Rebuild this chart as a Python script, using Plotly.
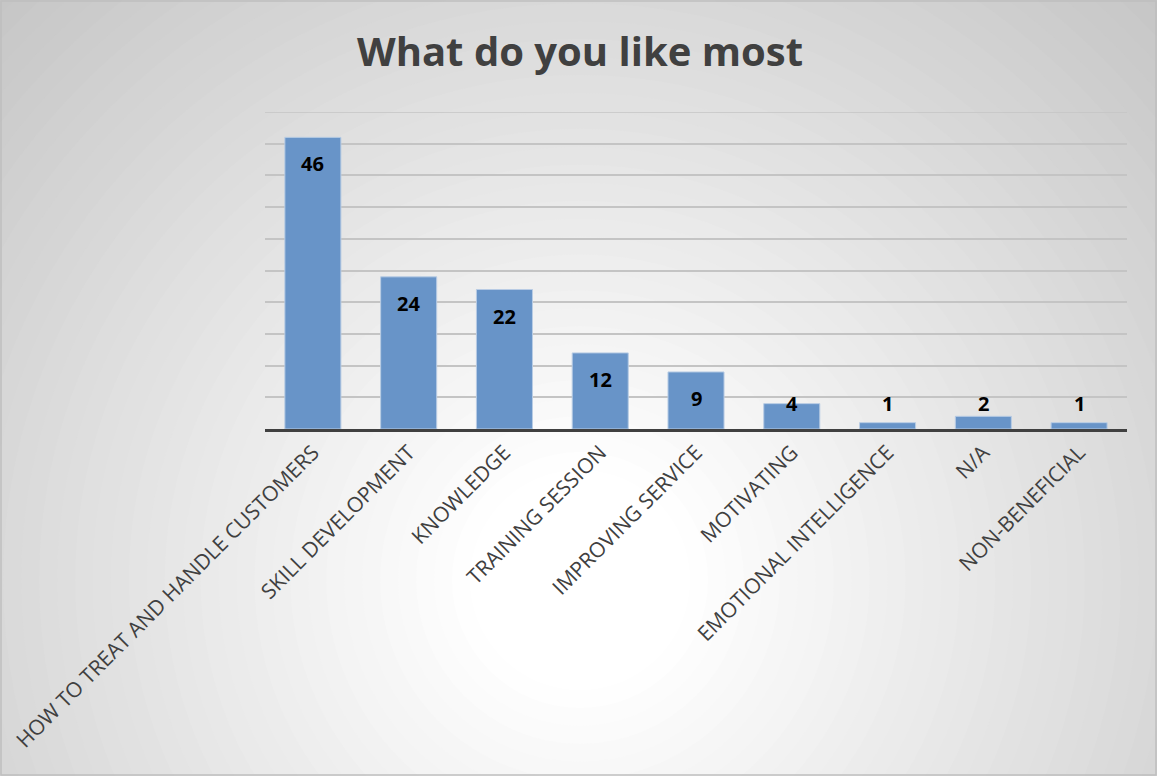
import plotly.graph_objects as go

categories = ["HOW TO TREAT AND HANDLE CUSTOMERS", "SKILL DEVELOPMENT", "KNOWLEDGE",
              "TRAINING SESSION", "IMPROVING SERVICE", "MOTIVATING",
              "EMOTIONAL INTELLIGENCE", "N/A", "NON-BENEFICIAL"]
values = [46, 24, 22, 12, 9, 4, 1, 2, 1]
title_text = "What do you like most"
y_max = 50

W, H = 1157, 776
L, R, T, B = 265, 30, 112, 347
pw, ph = W - L - R, H - T - B


def px2paper_x(px):
    return (px - L) / pw


def px2paper_y(py):
    return (H - B - py) / ph


fig = go.Figure()
fig.add_trace(go.Bar(
    x=categories, y=values,
    marker=dict(color="#6894c8", line=dict(color="#b8cce4", width=1)),
    hoverinfo="x+y",
))

# data labels (inside end, kept above baseline for short bars)
annotations = []
for c, v in zip(categories, values):
    annotations.append(dict(x=c, y=max(v - 4.2, 4.1), text=f"<b>{v}</b>", showarrow=False,
                            xref="x", yref="y", font=dict(family="Open Sans", size=20, color="#000000")))

annotations.append(dict(x=px2paper_x(580), y=px2paper_y(50), xref="paper", yref="paper",
                        text="<b>" + title_text + "</b>", showarrow=False,
                        font=dict(family="Open Sans", size=40, color="#404040"),
                        xanchor="center", yanchor="middle"))

# radial gradient background
shapes = []
cx, cy = 580, 580
n = 45
rmax, rmin = 900, 110
for i in range(n):
    r = rmax - (rmax - rmin) * i / (n - 1)
    f = (r - rmin) / (rmax - rmin)
    g = int(round(255 - f * 63))
    col = f"rgb({g},{g},{g})"
    shapes.append(dict(type="circle", xref="paper", yref="paper", layer="below",
                       x0=px2paper_x(cx - r), x1=px2paper_x(cx + r),
                       y0=px2paper_y(cy + r), y1=px2paper_y(cy - r),
                       fillcolor=col, line=dict(width=0)))
# top gridline at the axis maximum
shapes.append(dict(type="line", xref="paper", yref="y", x0=0, x1=1, y0=y_max, y1=y_max,
                   layer="below", line=dict(color="#c4c4c4", width=1.5)))
# outer border
shapes.append(dict(type="rect", xref="paper", yref="paper", layer="above",
                   x0=px2paper_x(1), x1=px2paper_x(W - 1), y0=px2paper_y(H - 1), y1=px2paper_y(1),
                   line=dict(color="#bfbfbf", width=1.5), fillcolor="rgba(0,0,0,0)"))

fig.update_layout(
    width=W, height=H,
    margin=dict(l=L, r=R, t=T, b=B, autoexpand=False),
    paper_bgcolor="#c8c8c8", plot_bgcolor="rgba(0,0,0,0)",
    showlegend=False, bargap=0.415,
    shapes=shapes, annotations=annotations,
    xaxis=dict(tickangle=-45, showline=True, linecolor="#404040", linewidth=3,
               ticks="", tickfont=dict(family="Open Sans", size=21, color="#404040"),
               showgrid=False),
    yaxis=dict(range=[0, y_max], dtick=5, showgrid=True, gridcolor="#c4c4c4", gridwidth=1.5,
               showticklabels=False, zeroline=False, ticks=""),
)

fig.write_html("out.html", config={"displayModeBar": False},
               post_script="document.body.style.margin='0';document.body.style.overflow='hidden';")
